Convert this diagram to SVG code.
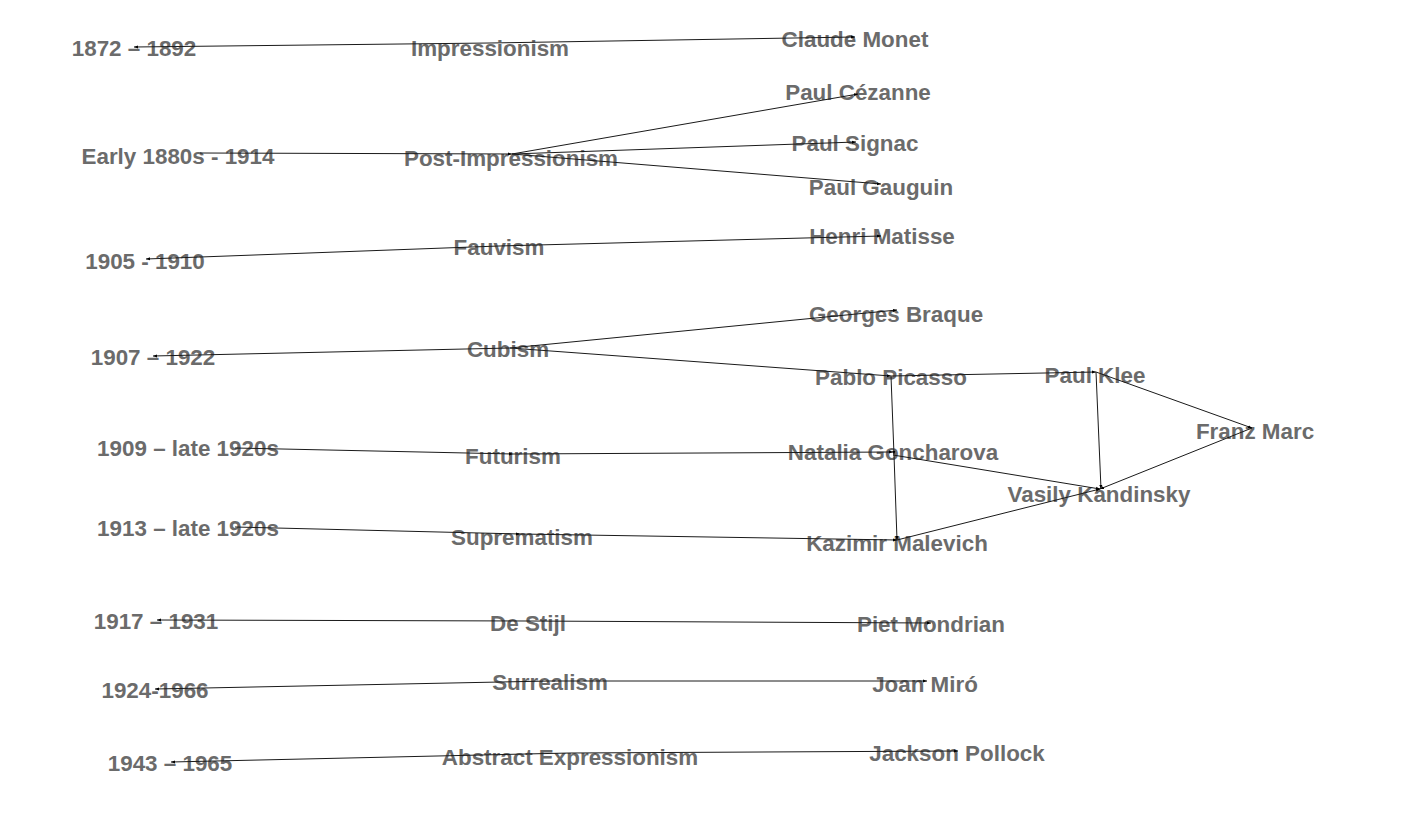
<svg xmlns="http://www.w3.org/2000/svg" width="1405" height="816" viewBox="0 0 1405 816">
<style>
text{font-family:"Liberation Sans",Arial,sans-serif;font-weight:bold;font-size:22.4px;fill:#6b6b6b;text-anchor:middle}
.e{stroke:#1a1a1a;stroke-width:1;fill:none;marker-end:url(#a)}
</style>
<defs>
<marker id="a" markerUnits="userSpaceOnUse" markerWidth="6" markerHeight="4" refX="4" refY="2" orient="auto"><path d="M0,0.5 L4,2 L0,3.5 Z" fill="#000"/></marker>
</defs>
<rect width="1405" height="816" fill="#fff"/>
<g id="nodes">
<g id="n1872"><text x="134" y="56">1872 – 1892</text></g>
<g id="impressionism"><text x="490" y="56">Impressionism</text></g>
<g id="monet"><text x="855" y="47">Claude Monet</text></g>
<g id="early1880"><text x="178" y="164">Early 1880s - 1914</text></g>
<g id="postimpressionism"><text x="511" y="166">Post-Impressionism</text></g>
<g id="cezanne"><text x="858" y="100">Paul Cézanne</text></g>
<g id="signac"><text x="855" y="151">Paul Signac</text></g>
<g id="gauguin"><text x="881" y="195">Paul Gauguin</text></g>
<g id="n1905"><text x="145" y="269">1905 - 1910</text></g>
<g id="fauvism"><text x="499" y="255">Fauvism</text></g>
<g id="matisse"><text x="882" y="244">Henri Matisse</text></g>
<g id="n1907"><text x="153" y="365">1907 – 1922</text></g>
<g id="cubism"><text x="508" y="357">Cubism</text></g>
<g id="braque"><text x="896" y="322">Georges Braque</text></g>
<g id="picasso"><text x="891" y="385">Pablo Picasso</text></g>
<g id="klee"><text x="1095" y="383">Paul Klee</text></g>
<g id="marc"><text x="1255" y="439">Franz Marc</text></g>
<g id="kandinsky"><text x="1099" y="502">Vasily Kandinsky</text></g>
<g id="n1909"><text x="188" y="456">1909 – late 1920s</text></g>
<g id="futurism"><text x="513" y="464">Futurism</text></g>
<g id="goncharova"><text x="893" y="460">Natalia Goncharova</text></g>
<g id="n1913"><text x="188" y="536">1913 – late 1920s</text></g>
<g id="suprematism"><text x="522" y="545">Suprematism</text></g>
<g id="malevich"><text x="897" y="551">Kazimir Malevich</text></g>
<g id="n1917"><text x="156" y="629">1917 – 1931</text></g>
<g id="destijl"><text x="528" y="631">De Stijl</text></g>
<g id="mondrian"><text x="931" y="632">Piet Mondrian</text></g>
<g id="n1924"><text x="155" y="698">1924-1966</text></g>
<g id="surrealism"><text x="550" y="690">Surrealism</text></g>
<g id="miro"><text x="925" y="692">Joan Miró</text></g>
<g id="n1943"><text x="170" y="771">1943 – 1965</text></g>
<g id="abstract"><text x="570" y="765">Abstract Expressionism</text></g>
<g id="pollock"><text x="957" y="761">Jackson Pollock</text></g>
</g>
<g id="connectors">
<path class="e" d="M490,43 L134,47"/>
<path class="e" d="M490,43 L855,37"/>
<path class="e" d="M200,153 L512,154"/>
<path class="e" d="M512,154 L858,94"/>
<path class="e" d="M512,154 L856,142"/>
<path class="e" d="M512,154 L881,184"/>
<path class="e" d="M499,246 L146,259"/>
<path class="e" d="M499,246 L881,236"/>
<path class="e" d="M510,348 L153,356"/>
<path class="e" d="M510,348 L897,310"/>
<path class="e" d="M510,348 L891,376"/>
<path class="e" d="M891,376 L1096,372"/>
<path class="e" d="M1096,372 L1252,428"/>
<path class="e" d="M1252,428 L1100,489"/>
<path class="e" d="M1096,372 L1101,489"/>
<path class="e" d="M893,455 L1100,489"/>
<path class="e" d="M891,376 L894,455"/>
<path class="e" d="M894,455 L897,540"/>
<path class="e" d="M897,540 L1100,489"/>
<path class="e" d="M235,448 L513,454"/>
<path class="e" d="M513,454 L893,452"/>
<path class="e" d="M235,527 L520,534"/>
<path class="e" d="M520,534 L897,540"/>
<path class="e" d="M528,621 L157,620"/>
<path class="e" d="M528,621 L931,623"/>
<path class="e" d="M550,681 L155,689"/>
<path class="e" d="M550,681 L927,681"/>
<path class="e" d="M570,753 L171,762"/>
<path class="e" d="M570,753 L958,751"/>
</g>
</svg>
